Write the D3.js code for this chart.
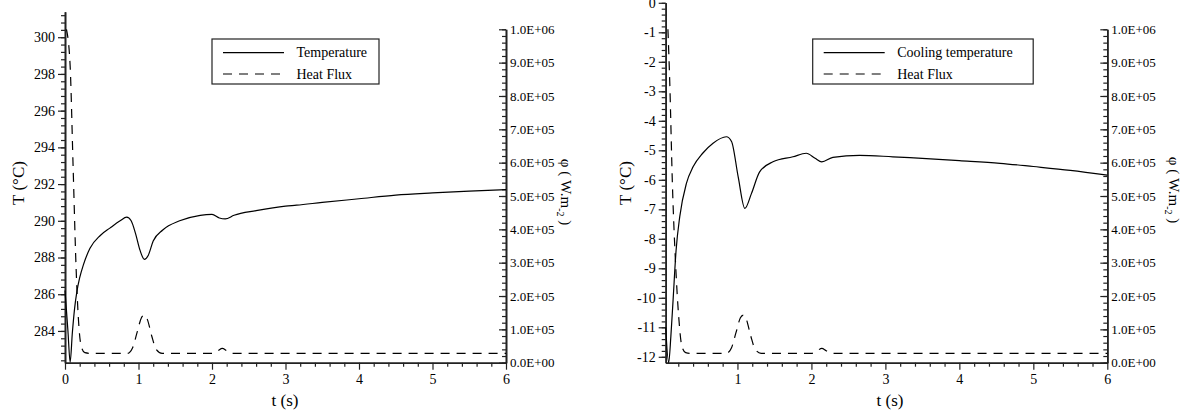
<!DOCTYPE html>
<html>
<head>
  <title>Temperature and heat flux</title>
</head>
<style>
  body { margin: 0; background: #fff; }
  text { font-family: "Liberation Serif", "Times New Roman", serif; fill: #000; }
  .domain { stroke: #222; stroke-width: 1.6; }
  .tick line { stroke: #222; stroke-width: 1.2; }
</style>
<body>
  <script src="https://d3js.org/d3.v7.min.js"></script>
  <script>
    // values
    // left panel
    const tempT_L = [0, 0.04, 0.07, 0.1, 0.13, 0.16, 0.2, 0.25, 0.34, 0.48, 0.61, 0.75, 0.84, 0.9, 0.96, 1.02, 1.08, 1.13, 1.2, 1.33, 1.56, 1.84, 2.0, 2.1, 2.18, 2.3, 2.6, 3.0, 3.15, 3.5, 4.0, 4.5, 5.0, 5.5, 6.0];
    const tempV_L = [286.2, 284.0, 282.3, 283.9, 285.2, 286.1, 286.9, 287.6, 288.5, 289.2, 289.6, 290.0, 290.2, 290.0, 289.3, 288.4, 287.9, 288.1, 288.9, 289.5, 290.0, 290.3, 290.35, 290.15, 290.1, 290.3, 290.55, 290.8, 290.85, 291.0, 291.2, 291.4, 291.52, 291.62, 291.7];
    const fluxT_L = [0.02, 0.07, 0.11, 0.15, 0.18, 0.22, 0.27, 0.35, 0.85, 0.92, 0.98, 1.04, 1.08, 1.12, 1.18, 1.24, 1.32, 2.0, 2.08, 2.14, 2.2, 2.28, 6.0];
    const fluxV_L = [1.0e6, 8.9e5, 5.9e5, 2.9e5, 1.4e5, 5.0e4, 3.0e4, 2.8e4, 2.8e4, 4.5e4, 9.0e4, 1.35e5, 1.43e5, 1.3e5, 8.0e4, 4.0e4, 2.8e4, 2.8e4, 3.6e4, 4.3e4, 3.6e4, 2.8e4, 2.8e4];

    // right panel
    const tempT_R = [0.03, 0.07, 0.1, 0.13, 0.17, 0.22, 0.31, 0.4, 0.53, 0.67, 0.85, 0.92, 1.01, 1.1, 1.19, 1.3, 1.48, 1.75, 1.93, 2.05, 2.14, 2.29, 2.65, 3.1, 3.33, 4.0, 4.55, 5.0, 5.5, 6.0];
    const tempV_R = [-11.0, -12.2, -11.3, -10.07, -8.4, -7.25, -6.12, -5.56, -5.1, -4.76, -4.54, -4.7, -5.9, -6.97, -6.46, -5.73, -5.39, -5.22, -5.1, -5.27, -5.39, -5.24, -5.17, -5.22, -5.25, -5.35, -5.44, -5.55, -5.68, -5.84];
    const fluxT_R = [0.06, 0.085, 0.12, 0.165, 0.205, 0.25, 0.3, 0.36, 0.85, 0.92, 0.98, 1.04, 1.08, 1.12, 1.18, 1.24, 1.32, 2.0, 2.08, 2.14, 2.2, 2.28, 6.0];
    const fluxV_R = [1.0e6, 8.4e5, 5.4e5, 2.9e5, 1.4e5, 4.8e4, 3.0e4, 2.8e4, 2.8e4, 4.5e4, 9.0e4, 1.35e5, 1.43e5, 1.3e5, 8.0e4, 4.0e4, 2.8e4, 2.8e4, 3.6e4, 4.3e4, 3.6e4, 2.8e4, 2.8e4];

    // ticks
    const tTicks = [0, 1, 2, 3, 4, 5, 6];
    const tempTicks_L = [284, 286, 288, 290, 292, 294, 296, 298, 300];
    const tempTicks_R = [-12, -11, -10, -9, -8, -7, -6, -5, -4, -3, -2, -1, 0];
    const fluxTicks = [0, 1e5, 2e5, 3e5, 4e5, 5e5, 6e5, 7e5, 8e5, 9e5, 1e6];

    const legendNames_L = ["Temperature", "Heat Flux"];
    const legendNames_R = ["Cooling temperature", "Heat Flux"];

    const W = 1186, H = 411;
    const svg = d3.select("body").append("svg")
      .attr("width", W).attr("height", H);

    function fmtExp(d) {
      if (d === 0) return "0.0E+00";
      const e = Math.floor(Math.log10(d) + 1e-9);
      const m = d / Math.pow(10, e);
      return m.toFixed(1) + "E+" + String(e).padStart(2, "0");
    }
    const plain = d => String(d);

    function panel(o) {
      const g = svg.append("g");
      const x = d3.scaleLinear().domain(o.xDom).range(o.xRange);
      const y = d3.scaleLinear().domain(o.yDom).range([362.7, o.yTop]);
      const y2 = d3.scaleLinear().domain([0, 1e6]).range([362.7, 29.3]);

      const xMinor = d3.range(0, 6.001, 0.2).filter(v => v >= o.xDom[0] && Math.abs(v - Math.round(v)) > 1e-6);
      const yMinor = d3.range(Math.ceil(o.yDom[0] / o.yMinorStep) * o.yMinorStep, o.yDom[1] + 1e-6, o.yMinorStep);
      const y2Minor = d3.range(0, 1e6 + 1, 2e4);

      // x axis
      g.append("g").attr("transform", "translate(0,362.7)")
        .call(d3.axisBottom(x).tickValues(xMinor).tickSize(4).tickSizeOuter(0).tickFormat(""));
      g.append("g").attr("transform", "translate(0,362.7)")
        .call(d3.axisBottom(x).tickValues(tTicks.filter(v => v >= o.xDom[0])).tickSize(7).tickSizeOuter(0).tickPadding(4).tickFormat(plain))
        .call(a => a.selectAll("text").style("font-size", "14px"));

      // left axis
      const xl = o.xRange[0];
      g.append("g").attr("transform", `translate(${xl},0)`)
        .call(d3.axisLeft(y).tickValues(yMinor).tickSize(4).tickSizeOuter(0).tickFormat(""));
      g.append("g").attr("transform", `translate(${xl},0)`)
        .call(d3.axisLeft(y).tickValues(o.yTicks).tickSize(7).tickSizeOuter(0).tickPadding(3).tickFormat(plain))
        .call(a => a.selectAll("text").style("font-size", "14px"));

      // right axis, ticks pointing inward
      const xr = o.xRange[1];
      g.append("g").attr("transform", `translate(${xr},0)`)
        .call(d3.axisRight(y2).tickValues(y2Minor).tickSize(-4).tickSizeOuter(0).tickFormat(""));
      g.append("g").attr("transform", `translate(${xr},0)`)
        .call(d3.axisRight(y2).tickValues(fluxTicks).tickSize(-7).tickSizeOuter(0).tickPadding(4).tickFormat(fmtExp))
        .call(a => a.selectAll("text").style("font-size", "13px"));

      // axis titles
      g.append("text").attr("x", o.tLabelX).attr("y", 406)
        .attr("text-anchor", "middle").style("font-size", "17px").text("t (s)");
      g.append("text").attr("transform", `translate(${o.yLabelX},183) rotate(-90)`)
        .attr("text-anchor", "middle").style("font-size", "17px").text("T (°C)");
      const phi = g.append("text").attr("transform", `translate(${o.phiX},${o.phiY}) rotate(90)`)
        .attr("text-anchor", "middle").style("font-size", "15px");
      phi.append("tspan").text("φ ( W.m");
      phi.append("tspan").attr("dy", 4).style("font-size", "10px").text("-2");
      phi.append("tspan").attr("dy", -4).text(" )");

      // curves
      const tempData = o.tempT.map((t, i) => [t, o.tempV[i]]);
      const fluxData = o.fluxT.map((t, i) => [t, o.fluxV[i]]);
      g.append("path").datum(tempData)
        .attr("fill", "none").attr("stroke", "#000").attr("stroke-width", 1.2)
        .attr("d", d3.line().x(d => x(d[0])).y(d => y(d[1])).curve(d3.curveMonotoneX));
      g.append("path").datum(fluxData)
        .attr("fill", "none").attr("stroke", "#000").attr("stroke-width", 1.2)
        .attr("stroke-dasharray", "9,7")
        .attr("d", d3.line().x(d => x(d[0])).y(d => y2(d[1])).curve(d3.curveMonotoneX));

      // legend
      const lg = g.append("g").attr("transform", `translate(${o.legX},39)`);
      lg.append("rect").attr("width", o.legW).attr("height", 45)
        .attr("fill", "#fff").attr("stroke", "#222").attr("stroke-width", 1.2);
      o.legend.forEach((name, i) => {
        const ly = 13.7 + i * 21.3;
        lg.append("line").attr("x1", 11).attr("x2", 72).attr("y1", ly).attr("y2", ly)
          .attr("stroke", "#000").attr("stroke-width", 1.2)
          .attr("stroke-dasharray", i === 1 ? "9,7" : null);
        lg.append("text").attr("x", 84.5).attr("y", ly + 4.5)
          .style("font-size", "14px").text(name);
      });
    }

    panel({
      xDom: [0, 6], xRange: [65, 506],
      yDom: [282.27, 301.39], yTop: 11.7, yTicks: tempTicks_L, yMinorStep: 0.4,
      tempT: tempT_L, tempV: tempV_L, fluxT: fluxT_L, fluxV: fluxV_L,
      legend: legendNames_L, legX: 212, legW: 167,
      tLabelX: 285, yLabelX: 24, phiX: 561, phiY: 192
    });

    panel({
      xDom: [0.03, 6], xRange: [665.7, 1107.3],
      yDom: [-12.2, 0], yTop: 2.8, yTicks: tempTicks_R, yMinorStep: 0.2,
      tempT: tempT_R, tempV: tempV_R, fluxT: fluxT_R, fluxV: fluxV_R,
      legend: legendNames_R, legX: 812.7, legW: 220.5,
      tLabelX: 890, yLabelX: 631, phiX: 1169, phiY: 190
    });
  </script>
</body>
</html>
